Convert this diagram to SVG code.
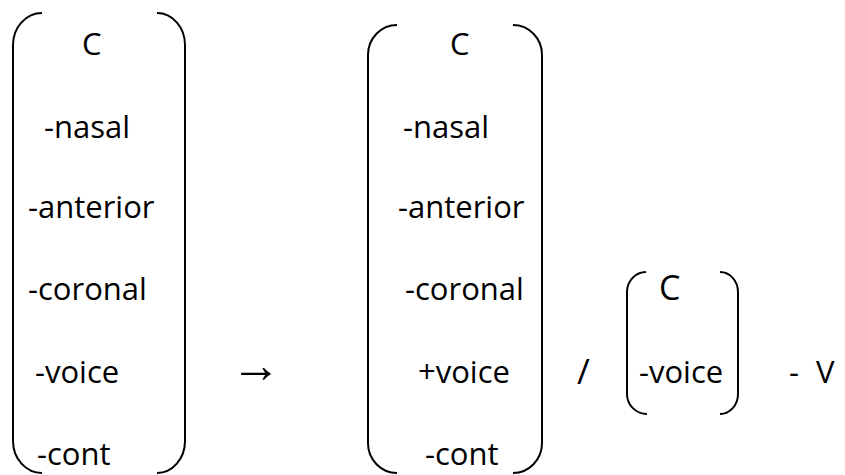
<svg xmlns="http://www.w3.org/2000/svg" width="845" height="475" viewBox="0 0 845 475">
<style>
.t{font-family:"Open Sans","Liberation Sans",sans-serif;font-size:31px;fill:#000}
.a{font-family:"Liberation Sans","DejaVu Sans",sans-serif;font-size:50px;fill:#000}
.b{fill:none;stroke:#000;stroke-width:2}
</style>
<rect width="845" height="475" fill="#fff"/>
<g id="matrix1">
<path class="b" d="M42,13 A29,32 0 0 0 13,45 L13,441 A29,32 0 0 0 42,473"/>
<path class="b" d="M157,13 A28,32 0 0 1 185,45 L185,441 A28,32 0 0 1 157,473"/>
<text class="t" x="82" y="55">C</text>
<text class="t" x="44" y="138">-nasal</text>
<text class="t" x="28" y="218">-anterior</text>
<text class="t" x="28" y="300">-coronal</text>
<text class="t" x="35" y="383">-voice</text>
<text class="t" x="37" y="465">-cont</text>
</g>
<g id="arrow">
<text class="a" x="231" y="382">→</text>
</g>
<g id="matrix2">
<path class="b" d="M397,25 A29,30 0 0 0 368,55 L368,443 A29,30 0 0 0 397,473"/>
<path class="b" d="M513,25 A29,30 0 0 1 542,55 L542,443 A29,30 0 0 1 513,473"/>
<text class="t" x="450" y="55">C</text>
<text class="t" x="403" y="138">-nasal</text>
<text class="t" x="398" y="218">-anterior</text>
<text class="t" x="405" y="300">-coronal</text>
<text class="t" x="418" y="383">+voice</text>
<text class="t" x="425" y="465">-cont</text>
</g>
<g id="slash">
<text class="t" x="577" y="384" style="font-size:35px">/</text>
</g>
<g id="matrix3">
<path class="b" d="M646,272 A19,20 0 0 0 627,292 L627,394 A20,20 0 0 0 647,414"/>
<path class="b" d="M720,272 A18,20 0 0 1 738,292 L738,394 A18,20 0 0 1 720,414"/>
<text class="t" x="659" y="300" style="font-size:34px">C</text>
<text class="t" x="639" y="383">-voice</text>
</g>
<g id="context">
<text class="t" x="789" y="383">-</text>
<text class="t" x="816" y="383">V</text>
</g>
</svg>
